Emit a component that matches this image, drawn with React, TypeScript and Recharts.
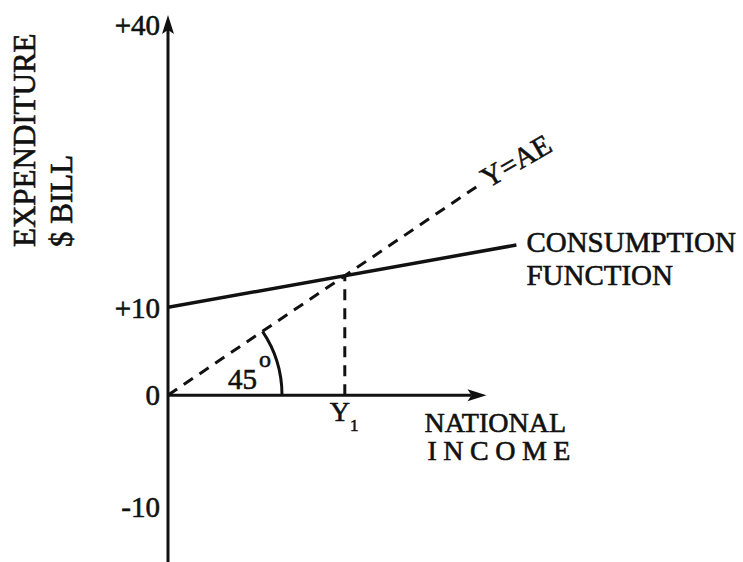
import React from 'react';
import {
  ComposedChart,
  Line,
  XAxis,
  YAxis,
  ReferenceLine,
  ReferenceDot,
  LabelList,
  Label,
} from 'recharts';

// Y tick positions (schematic axis: label text differs from position)
const yTickValues = [-12.7, 0, 10, 42.2];
const yTickLabels = ['-10', '0', '+10', '+40'];

// Consumption function (solid)
const consumptionX = [0, 26.8];
const consumptionY = [10, 17.1];

// 45-degree line Y = AE (dashed)
const aeX = [0, 24];
const aeY = [0, 24];

// Equilibrium income Y1
const y1Value = 13.6;

// Axis extents
const xAxisEnd = 24.5;
const yAxisTop = 43.3;
const yAxisBottom = -19;

const consumptionData = consumptionX.map((x, i) => ({ x, y: consumptionY[i] }));
const aeData = aeX.map((x, i) => ({ x, y: aeY[i] }));

const FONT = '"Liberation Serif", "Times New Roman", serif';
const INK = '#111';
const TS = { fontFamily: FONT, fill: INK, stroke: INK, strokeWidth: 0.6 } as const;

const ArrowLine = (props: any) => {
  const { x1, y1, x2, y2 } = props;
  const dx = x2 - x1;
  const dy = y2 - y1;
  const len = Math.hypot(dx, dy) || 1;
  const ux = dx / len;
  const uy = dy / len;
  const L = 19;
  const W = 6;
  const bx = x2 - ux * L;
  const by = y2 - uy * L;
  const px = -uy;
  const py = ux;
  return (
    <g>
      <line x1={x1} y1={y1} x2={bx + ux * 4} y2={by + uy * 4} stroke={INK} strokeWidth={3} />
      <polygon
        points={`${x2},${y2} ${bx + px * W},${by + py * W} ${bx + ux * 4},${by + uy * 4} ${bx - px * W},${by - py * W}`}
        fill={INK}
      />
    </g>
  );
};

const ConsumptionLabel = (props: any) => {
  const { x, y, index } = props;
  if (index !== consumptionData.length - 1) return null;
  return (
    <g>
      <text x={x + 10} y={y + 7} fontSize={29} {...TS}>CONSUMPTION</text>
      <text x={x + 10} y={y + 40} fontSize={29} {...TS}>FUNCTION</text>
    </g>
  );
};

const AELabel = (props: any) => {
  const { x, y, index } = props;
  if (index !== aeData.length - 1) return null;
  const tx = x + 8;
  const ty = y + 4;
  return (
    <text x={tx} y={ty} fontSize={29} {...TS} transform={`rotate(-30, ${tx}, ${ty})`}>
      Y=AE
    </text>
  );
};

const AngleMark = (props: any) => {
  const { cx, cy } = props;
  const r = 114;
  const a = (34 * Math.PI) / 180;
  const ex = cx + r * Math.cos(a);
  const ey = cy - r * Math.sin(a);
  return (
    <g>
      <path d={`M ${cx + r} ${cy} A ${r} ${r} 0 0 0 ${ex} ${ey}`} fill="none" stroke={INK} strokeWidth={3} />
      <text x={cx + 60} y={cy - 6} fontSize={29} {...TS}>
        45
        <tspan dx={2} dy={-22} fontSize={24}>o</tspan>
      </text>
    </g>
  );
};

const Y1Mark = (props: any) => {
  const { cx, cy } = props;
  return (
    <text x={cx - 15} y={cy + 26} fontSize={28} {...TS}>
      Y
      <tspan dy={10} fontSize={17}>1</tspan>
    </text>
  );
};

const IncomeTitle = (props: any) => {
  const { cx, cy } = props;
  return (
    <g>
      <text x={cx - 62} y={cy + 37} fontSize={28} {...TS}>NATIONAL</text>
      <text x={cx - 59} y={cy + 65} fontSize={28} {...TS} letterSpacing={6.5}>INCOME</text>
    </g>
  );
};

const YTitle = () => (
  <g>
    <text x={35} y={247} fontSize={31} {...TS} transform="rotate(-90, 35, 247)">EXPENDITURE</text>
    <text x={72} y={247} fontSize={31} {...TS} transform="rotate(-90, 72, 247)">$ BILL</text>
  </g>
);

export default function App() {
  return (
    <div style={{ position: 'absolute', left: 0, top: 0, width: 743, height: 562, background: '#fff' }}>
      <ComposedChart width={743} height={562} margin={{ top: 0, right: 3, bottom: 0, left: 0 }}>
        <XAxis type="number" dataKey="x" domain={[0, 44]} allowDataOverflow height={0} tick={false} axisLine={false} tickLine={false} />
        <YAxis
          type="number"
          domain={[yAxisBottom, 45]}
          allowDataOverflow
          width={168}
          ticks={yTickValues}
          tickFormatter={(v: number) => yTickLabels[yTickValues.indexOf(v)] ?? ''}
          axisLine={false}
          tickLine={false}
          tickSize={0}
          tickMargin={8}
          interval={0}
          tick={{ fontSize: 29, ...TS }}
        >
          <Label content={<YTitle />} />
        </YAxis>

        <ReferenceLine segment={[{ x: 0, y: yAxisBottom }, { x: 0, y: yAxisTop }]} shape={<ArrowLine />} />
        <ReferenceLine segment={[{ x: 0, y: 0 }, { x: xAxisEnd, y: 0 }]} shape={<ArrowLine />} />
        <ReferenceLine
          segment={[{ x: y1Value, y: 0 }, { x: y1Value, y: y1Value }]}
          stroke={INK}
          strokeWidth={3}
          strokeDasharray="11 8"
        />

        <Line
          data={aeData}
          dataKey="y"
          stroke={INK}
          strokeWidth={3}
          strokeDasharray="11 8"
          dot={false}
          activeDot={false}
          isAnimationActive={false}
        >
          <LabelList dataKey="y" content={<AELabel />} />
        </Line>
        <Line
          data={consumptionData}
          dataKey="y"
          stroke={INK}
          strokeWidth={3.5}
          dot={false}
          activeDot={false}
          isAnimationActive={false}
        >
          <LabelList dataKey="y" content={<ConsumptionLabel />} />
        </Line>

        <ReferenceDot x={0} y={0} r={1} shape={<AngleMark />} />
        <ReferenceDot x={y1Value} y={0} r={1} shape={<Y1Mark />} />
        <ReferenceDot x={xAxisEnd} y={0} r={1} shape={<IncomeTitle />} />
      </ComposedChart>
    </div>
  );
}
